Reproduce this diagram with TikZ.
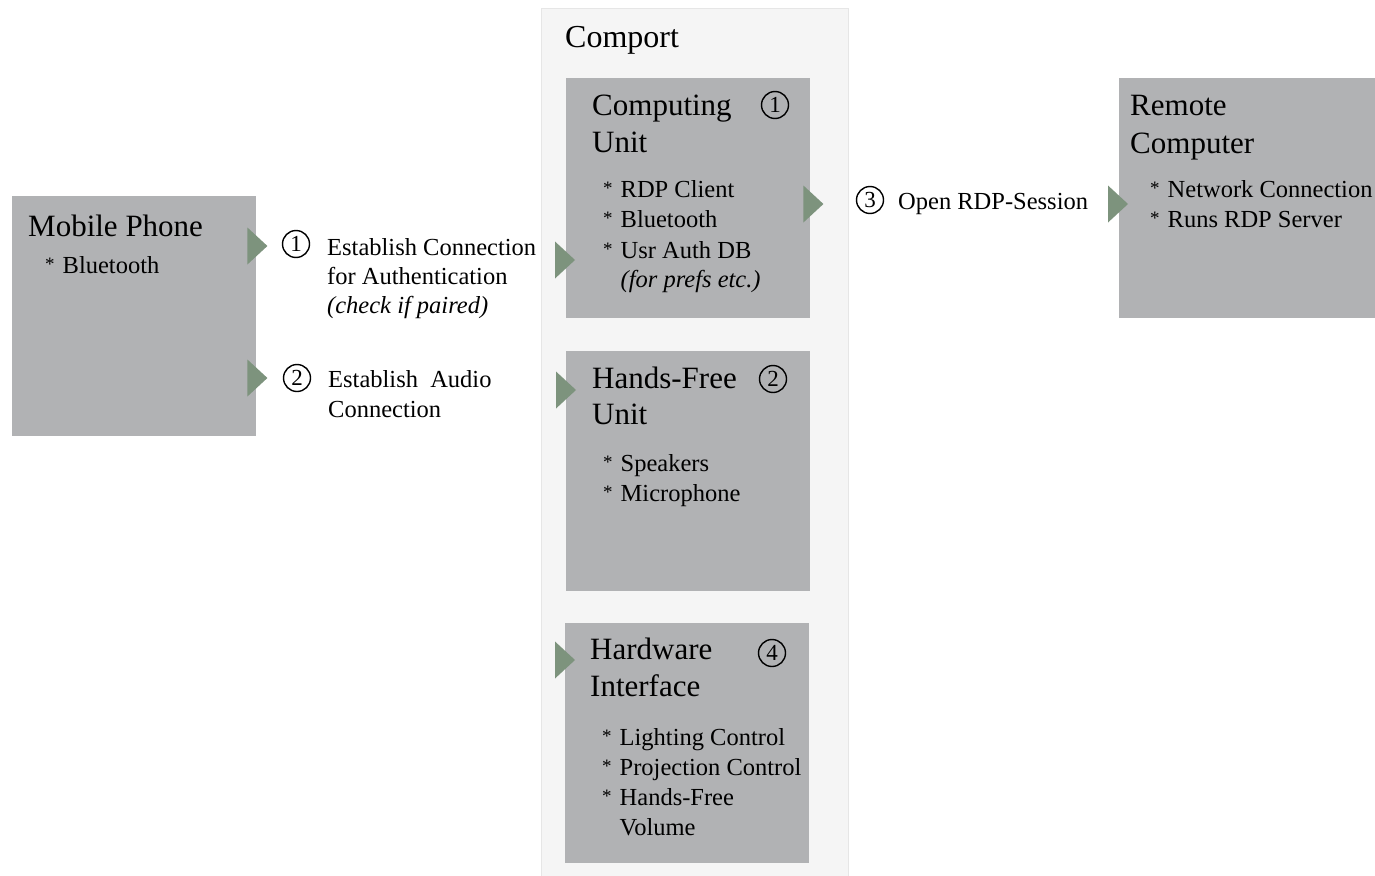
\documentclass[tikz,border=0pt]{standalone}
\usepackage{fontspec}
\setmainfont{Liberation Serif}
\usetikzlibrary{calc}
\definecolor{boxgray}{HTML}{B1B2B4}
\definecolor{tipgreen}{HTML}{7D937D}
\definecolor{panelfill}{HTML}{F5F5F5}
\definecolor{panelline}{HTML}{E6E6E6}
% small raised list star followed by its gap
\newcommand\liststar{\makebox[17.5pt][l]{\raisebox{2.5pt}{\fontsize{19}{19}\selectfont *}}}
\begin{document}
\begin{tikzpicture}[x=1pt,y=-1pt,
  unitbox/.style={fill=boxgray, draw=none, inner sep=0pt, minimum width=244pt,
    minimum height=240pt, anchor=north west},
  head/.style={font=\fontsize{31}{38}\selectfont, inner sep=0pt, anchor=base west},
  item/.style={font=\fontsize{24.5}{30}\selectfont, inner sep=0pt, anchor=base west},
  note/.style={font=\fontsize{24.5}{30}\selectfont\itshape, inner sep=0pt, anchor=base west},
  num/.style={circle, draw=black, line width=1.4pt, minimum size=27pt, inner sep=0pt,
    font=\fontsize{23}{23}\selectfont},
  flowtip/.pic={\fill[tipgreen] (0,-18.5) -- (20,0) -- (0,18.5) -- cycle;}
]
\useasboundingbox (0,0) rectangle (1375,875);

% Comport enclosure
\node[fill=panelfill, draw=panelline, line width=0.8pt, inner sep=0pt,
  minimum width=307pt, minimum height=900pt, anchor=north west] (comport) at (541,8) {};
\node[head, font=\fontsize{32}{38}\selectfont] (comporttitle) at (565,48) {Comport};

% units
\node[unitbox] (mobile) at (12,196) {};
\node[unitbox] (cu) at (566,78) {};
\node[unitbox] (hf) at (566,351) {};
\node[unitbox] (hw) at (565,623) {};
\node[unitbox, minimum width=270pt] (remote) at (1119,78) {};

% Mobile Phone
\node[head] (mobtitle) at ($(mobile.north west)+(16,40)$) {Mobile Phone};
\node[item] (mobbt) at ($(mobile.north west)+(33,77)$) {\liststar Bluetooth};

% Computing Unit
\node[head] (cut1) at ($(cu.north west)+(26,37)$) {Computing};
\node[head] (cut2) at ($(cu.north west)+(26,74)$) {Unit};
\node[num] (cunum) at ($(cu.north west)+(209,27)$) {1};
\node[item] (cui1) at ($(cu.north west)+(37,119)$) {\liststar RDP Client};
\node[item] (cui2) at ($(cu.north west)+(37,149)$) {\liststar Bluetooth};
\node[item] (cui3) at ($(cu.north west)+(37,180)$) {\liststar Usr Auth DB};
\node[note] (cui4) at ($(cu.north west)+(37,209)$) {\hphantom{\liststar}(for prefs etc.)};

% Hands-Free Unit
\node[head] (hft1) at ($(hf.north west)+(26,37)$) {Hands-Free};
\node[head] (hft2) at ($(hf.north west)+(26,73)$) {Unit};
\node[num] (hfnum) at ($(hf.north west)+(207,28)$) {2};
\node[item] (hfi1) at ($(hf.north west)+(37,120)$) {\liststar Speakers};
\node[item] (hfi2) at ($(hf.north west)+(37,150)$) {\liststar Microphone};

% Hardware Interface
\node[head] (hwt1) at ($(hw.north west)+(25,36)$) {Hardware};
\node[head] (hwt2) at ($(hw.north west)+(25,73)$) {Interface};
\node[num] (hwnum) at ($(hw.north west)+(207,30)$) {4};
\node[item] (hwi1) at ($(hw.north west)+(37,122)$) {\liststar Lighting Control};
\node[item] (hwi2) at ($(hw.north west)+(37,152)$) {\liststar Projection Control};
\node[item] (hwi3) at ($(hw.north west)+(37,182)$) {\liststar Hands-Free};
\node[item] (hwi4) at ($(hw.north west)+(37,212)$) {\hphantom{\liststar}Volume};

% Remote Computer
\node[head] (rct1) at ($(remote.north west)+(11,37)$) {Remote};
\node[head] (rct2) at ($(remote.north west)+(11,75)$) {Computer};
\node[item] (rci1) at ($(remote.north west)+(31,119)$) {\liststar Network Connection};
\node[item] (rci2) at ($(remote.north west)+(31,149)$) {\liststar Runs RDP Server};

% step labels between the units
\node[num] (s1) at (296,244) {1};
\node[item] (s1a) at (327,255) {Establish Connection};
\node[item] (s1b) at (327,284) {for Authentication};
\node[note] (s1c) at (327,313) {(check if paired)};

\node[num] (s2) at (297,378) {2};
\node[item] (s2a) at (328,387) {Establish\ \ Audio};
\node[item] (s2b) at (328,417) {Connection};

\node[num] (s3) at (870,200) {3};
\node[item] (s3a) at (898,209) {Open RDP-Session};

% flow markers
\pic at ($(mobile.north east)+(-9,50)$) {flowtip};
\pic at ($(mobile.north east)+(-9,182)$) {flowtip};
\pic at ($(cu.north west)+(-11,182)$) {flowtip};
\pic at ($(hf.north west)+(-10,39)$) {flowtip};
\pic at ($(hw.north west)+(-10,37)$) {flowtip};
\pic at ($(cu.north east)+(-7,126)$) {flowtip};
\pic at ($(remote.north west)+(-11,126)$) {flowtip};
\end{tikzpicture}
\end{document}
